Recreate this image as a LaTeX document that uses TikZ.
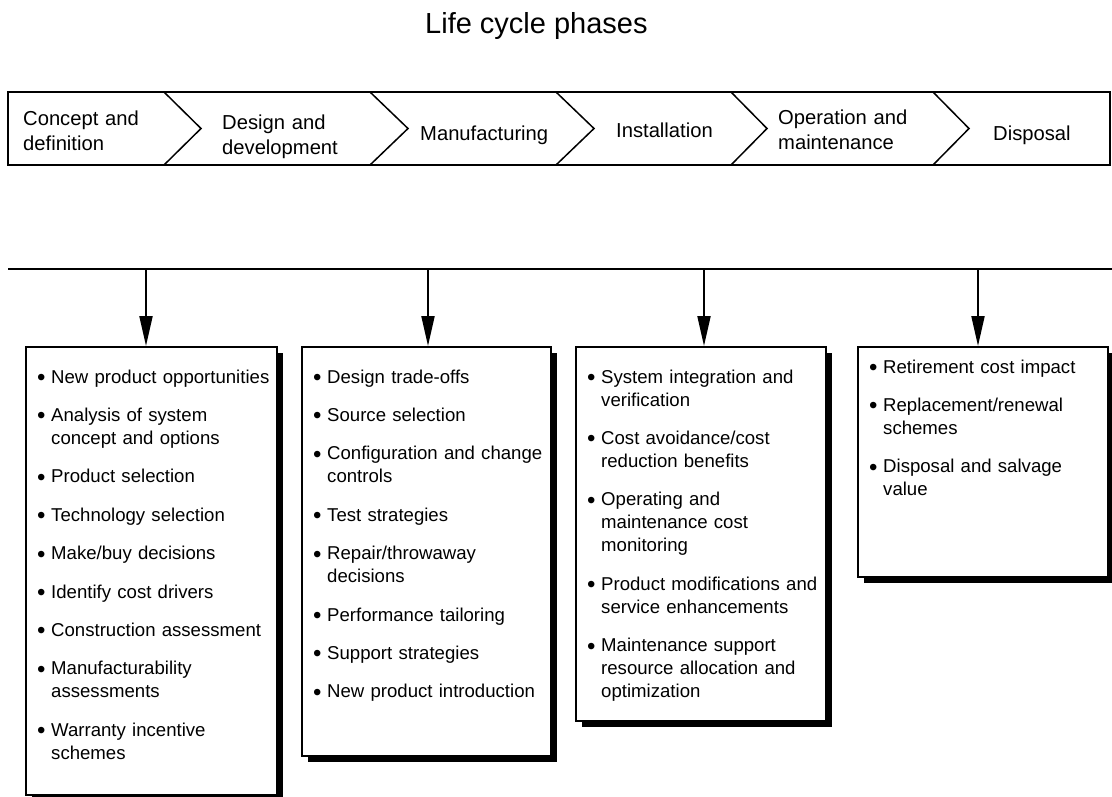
\documentclass[tikz,border=0pt]{standalone}
\usepackage{fontspec}
\setmainfont{Liberation Sans}
\usetikzlibrary{arrows.meta,shadows}
\newcommand\bulletentry[1]{\hangindent=14pt\hangafter=1\relax\strut\makebox[14pt][l]{\raisebox{-2.5pt}{\fontsize{24}{23}\selectfont\textbullet}}#1\strut\par}
\begin{document}
\begin{tikzpicture}[x=1pt,y=-1pt,
  titletext/.style={anchor=base west, inner sep=0pt, font=\fontsize{29}{34}\selectfont},
  phase/.style={anchor=base west, inner sep=0pt, text width=150pt, font=\fontsize{20.2}{25.5}\selectfont},
  barline/.style={draw=black, line width=1.5pt},
  infobox/.style={draw=black, line width=1.5pt, fill=white, inner sep=0pt, anchor=north west,
    drop shadow={shadow xshift=6pt, shadow yshift=-6pt, fill=black, opacity=1}},
  entry/.style={inner sep=0pt, text width=250pt, font=\fontsize{18.6}{23}\selectfont},
  link/.style={line width=2pt},
  feed/.style={line width=2pt, -{Triangle[length=30pt,width=13pt]}},
]
\useasboundingbox (0,0) rectangle (1112,796);

% title
\node[titletext] (title) at (425,33) {Life cycle phases};

% phase bar
\draw[barline] (8,92) rectangle (1110,165);
\foreach \t/\a in {164/201, 370/408, 556/594, 731/767, 933/969}{
  \draw[barline, line join=miter] (\t,92) -- (\a,128.5) -- (\t,165);
}
\node[phase] (p1) at (23,125) {Concept and\newline definition};
\node[phase] (p2) at (222,129) {Design and\newline development};
\node[phase] (p3) at (420,140) {Manufacturing};
\node[phase] (p4) at (616,137) {Installation};
\node[phase] (p5) at (778,124) {Operation and\newline maintenance};
\node[phase] (p6) at (993,140) {Disposal};

% boxes
\node[infobox, minimum width=251pt, minimum height=448pt] (box1) at (25,346) {};
\node[infobox, minimum width=249pt, minimum height=409pt] (box2) at (301,346) {};
\node[infobox, minimum width=250pt, minimum height=374pt] (box3) at (575,346) {};
\node[infobox, minimum width=250pt, minimum height=230pt] (box4) at (857,346) {};

% distribution line and arrows
\coordinate (lineL) at (8,269);
\coordinate (lineR) at (1112,269);
\draw[link] (lineL) -- (lineR);
\coordinate (t1) at (146,269);
\coordinate (t2) at (428,269);
\coordinate (t3) at (704,269);
\coordinate (t4) at (978,269);
\draw[feed] (t1) -- (t1 |- box1.north);
\draw[feed] (t2) -- (t2 |- box2.north);
\draw[feed] (t3) -- (t3 |- box3.north);
\draw[feed] (t4) -- (t4 |- box4.north);

% box 1 entries
\node[entry, anchor=base west] (a1) at (37,383) {\bulletentry{New product opportunities}};
\node[entry, anchor=north west] (a2) at ([yshift=-15pt]a1.south west) {\bulletentry{Analysis of system\newline concept and options}};
\node[entry, anchor=north west] (a3) at ([yshift=-15pt]a2.south west) {\bulletentry{Product selection}};
\node[entry, anchor=north west] (a4) at ([yshift=-15pt]a3.south west) {\bulletentry{Technology selection}};
\node[entry, anchor=north west] (a5) at ([yshift=-15pt]a4.south west) {\bulletentry{Make/buy decisions}};
\node[entry, anchor=north west] (a6) at ([yshift=-15pt]a5.south west) {\bulletentry{Identify cost drivers}};
\node[entry, anchor=north west] (a7) at ([yshift=-15pt]a6.south west) {\bulletentry{Construction assessment}};
\node[entry, anchor=north west] (a8) at ([yshift=-15pt]a7.south west) {\bulletentry{Manufacturability\newline assessments}};
\node[entry, anchor=north west] (a9) at ([yshift=-15pt]a8.south west) {\bulletentry{Warranty incentive\newline schemes}};

% box 2 entries
\node[entry, anchor=base west] (b1) at (313,383) {\bulletentry{Design trade-offs}};
\node[entry, anchor=north west] (b2) at ([yshift=-15pt]b1.south west) {\bulletentry{Source selection}};
\node[entry, anchor=north west] (b3) at ([yshift=-15pt]b2.south west) {\bulletentry{Configuration and change\newline controls}};
\node[entry, anchor=north west] (b4) at ([yshift=-15pt]b3.south west) {\bulletentry{Test strategies}};
\node[entry, anchor=north west] (b5) at ([yshift=-15pt]b4.south west) {\bulletentry{Repair/throwaway\newline decisions}};
\node[entry, anchor=north west] (b6) at ([yshift=-15pt]b5.south west) {\bulletentry{Performance tailoring}};
\node[entry, anchor=north west] (b7) at ([yshift=-15pt]b6.south west) {\bulletentry{Support strategies}};
\node[entry, anchor=north west] (b8) at ([yshift=-15pt]b7.south west) {\bulletentry{New product introduction}};

% box 3 entries
\node[entry, anchor=base west] (c1) at (587,383) {\bulletentry{System integration and\newline verification}};
\node[entry, anchor=north west] (c2) at ([yshift=-15pt]c1.south west) {\bulletentry{Cost avoidance/cost\newline reduction benefits}};
\node[entry, anchor=north west] (c3) at ([yshift=-15pt]c2.south west) {\bulletentry{Operating and\newline maintenance cost\newline monitoring}};
\node[entry, anchor=north west] (c4) at ([yshift=-15pt]c3.south west) {\bulletentry{Product modifications and\newline service enhancements}};
\node[entry, anchor=north west] (c5) at ([yshift=-15pt]c4.south west) {\bulletentry{Maintenance support\newline resource allocation and\newline optimization}};

% box 4 entries
\node[entry, anchor=base west] (d1) at (869,373) {\bulletentry{Retirement cost impact}};
\node[entry, anchor=north west] (d2) at ([yshift=-15pt]d1.south west) {\bulletentry{Replacement/renewal\newline schemes}};
\node[entry, anchor=north west] (d3) at ([yshift=-15pt]d2.south west) {\bulletentry{Disposal and salvage\newline value}};
\end{tikzpicture}
\end{document}
